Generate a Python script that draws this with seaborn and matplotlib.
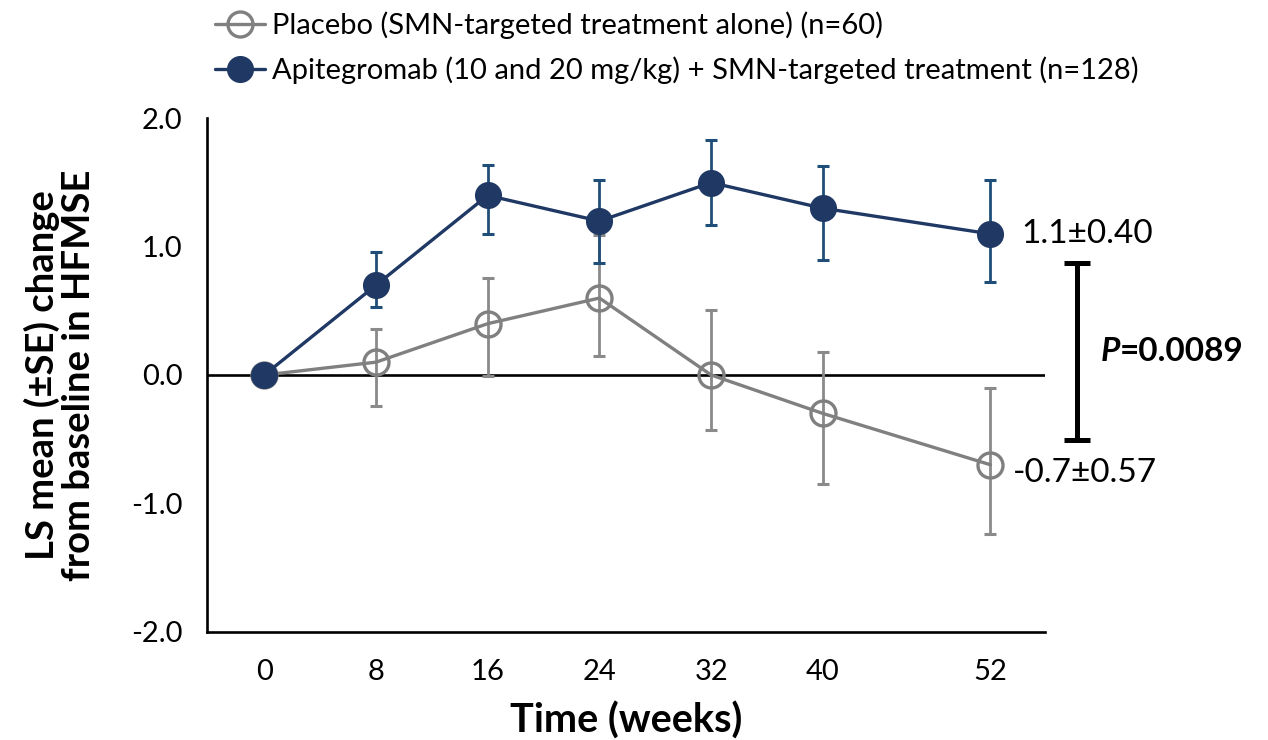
import numpy as np
import pandas as pd
import matplotlib
matplotlib.use("Agg")
import matplotlib.pyplot as plt
import seaborn as sns

# --- data ---
WEEKS = [0, 8, 16, 24, 32, 40, 52]

PLACEBO_MEAN = [0.0, 0.1, 0.4, 0.6, 0.0, -0.3, -0.7]
PLACEBO_ERR_LOW = [0.0, 0.34, 0.41, 0.45, 0.43, 0.55, 0.54]
PLACEBO_ERR_HIGH = [0.0, 0.26, 0.36, 0.49, 0.51, 0.48, 0.60]

APITEG_MEAN = [0.0, 0.7, 1.4, 1.2, 1.5, 1.3, 1.1]
APITEG_ERR_LOW = [0.0, 0.17, 0.30, 0.33, 0.33, 0.40, 0.375]
APITEG_ERR_HIGH = [0.0, 0.26, 0.24, 0.32, 0.33, 0.33, 0.42]

PLACEBO_LABEL = "Placebo (SMN-targeted treatment alone) (n=60)"
APITEG_LABEL = "Apitegromab (10 and 20 mg/kg) + SMN-targeted treatment (n=128)"
PLACEBO_END = "-0.7\u00b10.57"
APITEG_END = "1.1\u00b10.40"
P_VALUE = "=0.0089"
BRACKET_Y = (0.87, -0.51)   # span of the significance bracket

Y_TICKS = [-2.0, -1.0, 0.0, 1.0, 2.0]

# --- style ---
GREY = "#808080"
GREY_ERR = "#8a8a8a"
NAVY = "#1f3864"
NAVY_ERR = "#1f4e79"
FONT = ["Lato", "DejaVu Sans"]

sns.set_style("white")
plt.rcParams["font.family"] = FONT
plt.rcParams["axes.unicode_minus"] = False
for key in ("text.color", "axes.labelcolor", "xtick.color", "ytick.color"):
    plt.rcParams[key] = "black"

df = pd.DataFrame({
    "week": WEEKS * 2,
    "mean": PLACEBO_MEAN + APITEG_MEAN,
    "lo": PLACEBO_ERR_LOW + APITEG_ERR_LOW,
    "hi": PLACEBO_ERR_HIGH + APITEG_ERR_HIGH,
    "group": ["placebo"] * len(WEEKS) + ["apiteg"] * len(WEEKS),
})

fig = plt.figure(figsize=(12.68, 7.40), dpi=100)
ax = fig.add_axes([0.1632, 0.1466, 0.8241 - 0.1632, 0.8399 - 0.1466])

ax.axhline(0, color="black", lw=1.9, zorder=1)


def draw_group(sub, color, ecolor, label, hollow, z):
    # error bars only where an SE was reported (baseline has none)
    e = sub[sub["lo"] + sub["hi"] > 0]
    ax.errorbar(e["week"], e["mean"], yerr=[e["lo"], e["hi"]], fmt="none",
                ecolor=ecolor, elinewidth=2.0, capsize=4.5, capthick=2.2,
                zorder=z)
    sns.lineplot(data=sub, x="week", y="mean", ax=ax, color=color, lw=2.4,
                 marker="o", markersize=18 if hollow else 19.5,
                 markerfacecolor="none" if hollow else color,
                 markeredgecolor=color, markeredgewidth=2.4 if hollow else 0,
                 label=label, zorder=z + 0.5)


draw_group(df[df["group"] == "placebo"], GREY, GREY_ERR, PLACEBO_LABEL, True, 2)
draw_group(df[df["group"] == "apiteg"], NAVY, NAVY_ERR, APITEG_LABEL, False, 4)

ax.set_xlim(-4.1, 55.9)
ax.set_ylim(-2.0, 2.0)
ax.set_xticks(WEEKS)
ax.set_yticks(Y_TICKS)
ax.set_yticklabels([f"{v:.1f}" for v in Y_TICKS])
ax.tick_params(axis="both", direction="out", length=6.5, width=1.9,
               labelsize=21, colors="black")
ax.tick_params(axis="x", pad=13)
ax.tick_params(axis="y", pad=11)
sns.despine(ax=ax)
for s in ("left", "bottom"):
    ax.spines[s].set_linewidth(1.9)
    ax.spines[s].set_color("black")

ax.set_xlabel("Time (weeks)", fontsize=28.5, fontweight="bold", labelpad=12)
ax.set_ylabel("LS mean (\u00b1SE) change\nfrom baseline in HFMSE", fontsize=27.5,
              fontweight="bold", labelpad=25, linespacing=1.07)

# end-point labels
ax.annotate(APITEG_END, xy=(WEEKS[-1], APITEG_MEAN[-1]), xytext=(22, 0),
            textcoords="offset points", ha="left", va="center", fontsize=24)
ax.annotate(PLACEBO_END, xy=(WEEKS[-1], PLACEBO_MEAN[-1]), xytext=(16, -6),
            textcoords="offset points", ha="left", va="center", fontsize=24)

# significance bracket
mid = (BRACKET_Y[0] + BRACKET_Y[1]) / 2
half = (BRACKET_Y[0] - BRACKET_Y[1]) / 2
ax.errorbar([58.2], [mid], yerr=[[half], [half]], fmt="none", ecolor="black",
            elinewidth=3.6, capsize=9.5, capthick=3.6, clip_on=False)
p_txt = ax.text(59.9, mid, "P", fontsize=24, fontweight="bold",
                fontstyle="italic", ha="left", va="center")
ax.annotate(P_VALUE, xy=(1, 0), xycoords=p_txt, ha="left", va="bottom",
            fontsize=24, fontweight="bold")

ax.legend(loc="upper left", bbox_to_anchor=(0.1696, 0.9845),
          bbox_transform=fig.transFigure, frameon=False, fontsize=21,
          handlelength=1.7, handletextpad=0.25, labelspacing=0.59,
          borderpad=0, borderaxespad=0)

fig.savefig("out.png", dpi=100)
